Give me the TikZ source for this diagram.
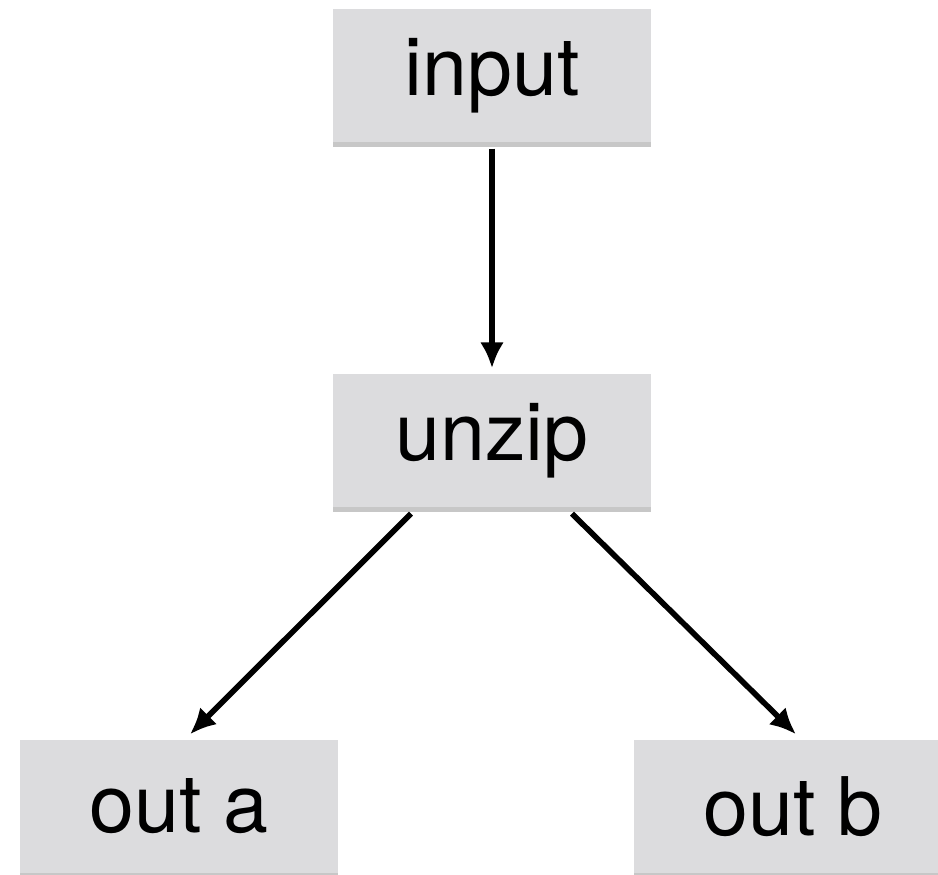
\documentclass[tikz,border=0pt]{standalone}
\usepackage{fontspec}
\setmainfont{TeX Gyre Heros}
\usetikzlibrary{arrows.meta, shadows}
\definecolor{boxgray}{HTML}{DCDCDE}

\begin{document}
\begin{tikzpicture}[font={\fontsize{23}{27}\selectfont}, every node/.style={inner sep=0 pt,
minimum width=3.18 cm, minimum height=1.33 cm, fill=boxgray,
drop shadow={shadow xshift=0 cm, shadow yshift=-0.05 cm, opacity=0.22, fill=black}}]

\useasboundingbox (0,0) rectangle (9.38,8.74);

\path
(4.92,7.985) node (input) {input}
(4.92,4.335) node (unzip) {unzip}
(1.79,0.675) node (outa) {out a}
(7.93,0.675) node (outb) {out b}
;

% data flow
\begin{scope}[-{Latex[length=0.26cm, width=0.24cm]}, line width=1.6 pt]

\draw ([yshift=-0.06 cm]input.south) -- ([yshift=0.05 cm]unzip.north) ;
\draw ([xshift=-0.81 cm, yshift=-0.06 cm]unzip.south) -- ([xshift=0.11 cm, yshift=0.05 cm]outa.north) ;
\draw ([xshift=0.8 cm, yshift=-0.06 cm]unzip.south) -- ([xshift=0.03 cm, yshift=0.05 cm]outb.north) ;

\end{scope}

\end{tikzpicture}
\end{document}
